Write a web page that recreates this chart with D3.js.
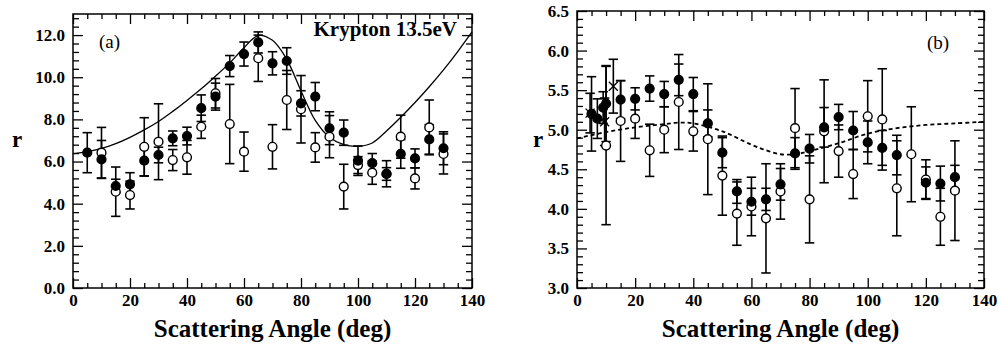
<!DOCTYPE html>
<html>
<head>
<meta charset="utf-8">
<script src="https://cdn.jsdelivr.net/npm/d3@7/dist/d3.min.js"></script>
<style>
  body { margin: 0; background: #fff; }
  svg text { font-family: "Liberation Serif", "Times New Roman", Times, serif; }
</style>
</head>
<body>
<svg id="chart" width="999" height="347"></svg>
<script>
// ---- panel (a) ----
const angA = [5, 10, 15, 20, 25, 30, 35, 40, 45, 50, 55, 60, 65, 70, 75, 80, 85, 90, 95, 100, 105, 110, 115, 120, 125, 130];
const fillA = [6.42, 6.1, 4.84, 4.92, 6.04, 6.31, 7.1, 7.21, 8.53, 9.08, 10.53, 11.1, 11.65, 10.66, 10.77, 8.76, 9.08, 7.58, 7.37, 6.04, 5.92, 5.41, 6.36, 6.15, 7.05, 6.63];
const fillAErr = [0.95, 0.9, 0.32, 0.55, 0.73, 0.37, 0.35, 0.42, 0.63, 0.64, 0.5, 0.57, 0.5, 0.55, 0.63, 0.6, 0.67, 0.78, 0.6, 0.7, 0.46, 0.3, 0.68, 0.45, 0.7, 0.78];
const angAOpen = [10, 15, 20, 25, 30, 35, 40, 45, 50, 55, 60, 65, 70, 75, 80, 85, 90, 95, 100, 105, 110, 115, 120, 125, 130];
const openA = [6.42, 4.57, 4.41, 6.7, 6.94, 6.07, 6.2, 7.65, 9.24, 7.78, 6.47, 10.9, 6.7, 8.92, 8.48, 6.67, 7.18, 4.81, 5.83, 5.47, 5.42, 7.18, 5.2, 7.62, 6.36];
const openAErr = [1.2, 1.17, 0.66, 1.38, 1.8, 0.5, 0.8, 0.55, 0.7, 1.88, 0.93, 1.1, 1.05, 1.4, 1.6, 0.7, 1.0, 1.06, 0.4, 0.55, 0.62, 1.02, 0.5, 1.3, 0.95];
const curveAAng = [0, 5, 10, 15, 20, 25, 30, 35, 40, 45, 50, 55, 60, 65, 70, 75, 80, 85, 90, 95, 100, 105, 110, 115, 120, 125, 130, 135, 140];
const curveAVal = [6.38, 6.47, 6.62, 6.85, 7.15, 7.5, 7.9, 8.38, 8.9, 9.45, 10.05, 10.68, 11.4, 11.98, 11.75, 10.85, 9.35, 7.95, 7.15, 6.8, 6.72, 6.88, 7.45, 8.1, 8.8, 9.55, 10.35, 11.22, 12.15];
const yTicksA = [0, 2, 4, 6, 8, 10, 12];

// ---- panel (b) ----
const angB = [5, 7, 9, 10, 15, 20, 25, 30, 35, 40, 45, 50, 55, 60, 65, 70, 75, 80, 85, 90, 95, 100, 105, 110, 120, 125, 130];
const fillB = [5.2, 5.14, 5.28, 5.33, 5.38, 5.39, 5.52, 5.45, 5.63, 5.45, 5.08, 4.71, 4.22, 4.09, 4.12, 4.31, 4.7, 4.76, 5.03, 5.16, 4.99, 4.84, 4.77, 4.68, 4.33, 4.32, 4.4];
const fillBErr = [0.47, 0.25, 0.2, 0.48, 0.24, 0.14, 0.16, 0.16, 0.2, 0.21, 0.17, 0.19, 0.15, 0.17, 0.14, 0.2, 0.2, 0.18, 0.25, 0.16, 0.24, 0.27, 0.22, 0.25, 0.2, 0.22, 0.15];
const angBOpen = [10, 15, 20, 25, 30, 35, 40, 45, 50, 55, 60, 65, 70, 75, 80, 85, 90, 95, 100, 105, 110, 115, 120, 125, 130];
const openB = [4.8, 5.11, 5.14, 4.74, 5.0, 5.35, 4.98, 4.88, 4.42, 3.94, 4.03, 3.88, 4.22, 5.02, 4.12, 4.98, 4.73, 4.44, 5.17, 5.13, 4.26, 4.69, 4.37, 3.9, 4.23];
const openBErr = [1.0, 0.51, 0.25, 0.33, 0.29, 0.6, 0.25, 0.7, 0.5, 0.4, 0.37, 0.69, 0.35, 0.5, 0.55, 0.65, 0.33, 0.31, 0.45, 0.64, 0.6, 0.6, 0.25, 0.36, 0.63];
const angBCross = [4.5, 9.5, 12.5];
const crossB = [5.21, 5.1, 5.55];
const crossBErr = [0.25, 0.3, 0.34];
const curveBAng = [0, 10, 20, 30, 35, 40, 50, 60, 65, 70, 75, 80, 90, 100, 110, 120, 130, 140];
const curveBVal = [4.89, 4.97, 5.03, 5.07, 5.09, 5.08, 4.98, 4.81, 4.74, 4.69, 4.69, 4.73, 4.83, 4.95, 5.02, 5.06, 5.08, 5.1];
const yTicksB = [3.0, 3.5, 4.0, 4.5, 5.0, 5.5, 6.0, 6.5];

const xTicks = [0, 20, 40, 60, 80, 100, 120, 140];

const FONT = '"Liberation Serif", "Times New Roman", Times, serif';
const svg = d3.select("#chart");

function panel(box, yDomain, yMajor, yMinorStep, yLabelX) {
  const x = d3.scaleLinear().domain([0, 140]).range([box.left, box.right]);
  const y = d3.scaleLinear().domain(yDomain).range([box.bottom, box.top]);
  const g = svg.append("g");
  const xMinor = d3.range(0, 140.01, 5).filter(v => v % 20 !== 0);
  const yMinor = d3.range(yDomain[0], yDomain[1] + 1e-6, yMinorStep).filter(v => !yMajor.some(m => Math.abs(m - v) < 1e-6));

  const styleAxis = sel => {
    sel.attr("font-family", FONT);
    sel.select(".domain").remove();
    sel.selectAll("line").attr("stroke", "#000").attr("stroke-width", 1.3);
  };
  const lab = sel => sel.selectAll("text").attr("font-family", FONT).attr("font-size", 17).attr("font-weight", "bold").attr("fill", "#000");

  // bottom
  g.append("g").attr("transform", `translate(0,${box.bottom})`)
    .call(d3.axisBottom(x).tickValues(xTicks).tickSize(-10).tickPadding(6).tickFormat(d3.format("d")))
    .call(styleAxis).call(lab);
  g.append("g").attr("transform", `translate(0,${box.bottom})`)
    .call(d3.axisBottom(x).tickValues(xMinor).tickSize(-5).tickFormat(""))
    .call(styleAxis);
  // top
  g.append("g").attr("transform", `translate(0,${box.top})`)
    .call(d3.axisTop(x).tickValues(xTicks).tickSize(-10).tickFormat(""))
    .call(styleAxis);
  g.append("g").attr("transform", `translate(0,${box.top})`)
    .call(d3.axisTop(x).tickValues(xMinor).tickSize(-5).tickFormat(""))
    .call(styleAxis);
  // left
  g.append("g").attr("transform", `translate(${box.left},0)`)
    .call(d3.axisLeft(y).tickValues(yMajor).tickSize(-10).tickPadding(8).tickFormat(d3.format(".1f")))
    .call(styleAxis).call(lab);
  g.append("g").attr("transform", `translate(${box.left},0)`)
    .call(d3.axisLeft(y).tickValues(yMinor).tickSize(-6).tickFormat(""))
    .call(styleAxis);
  // right
  g.append("g").attr("transform", `translate(${box.right},0)`)
    .call(d3.axisRight(y).tickValues(yMajor).tickSize(-10).tickFormat(""))
    .call(styleAxis);
  g.append("g").attr("transform", `translate(${box.right},0)`)
    .call(d3.axisRight(y).tickValues(yMinor).tickSize(-6).tickFormat(""))
    .call(styleAxis);

  g.append("rect")
    .attr("x", box.left).attr("y", box.top)
    .attr("width", box.right - box.left).attr("height", box.bottom - box.top)
    .attr("fill", "none").attr("stroke", "#000").attr("stroke-width", 1.5);

  g.append("text").attr("x", (box.left + box.right) / 2).attr("y", 337)
    .attr("text-anchor", "middle").attr("font-family", FONT).attr("font-size", 25).attr("font-weight", "bold")
    .text("Scattering Angle (deg)");
  g.append("text").attr("x", yLabelX).attr("y", 147)
    .attr("text-anchor", "middle").attr("font-family", FONT).attr("font-size", 23).attr("font-weight", "bold")
    .text("r");

  return { x, y, g };
}

function errorBars(p, ang, val, err) {
  const cap = 4.7;
  const eb = p.g.append("g").attr("stroke", "#000").attr("stroke-width", 1.6).attr("fill", "none");
  ang.forEach((a, i) => {
    const cx = p.x(a), y0 = p.y(val[i] - err[i]), y1 = p.y(val[i] + err[i]);
    eb.append("line").attr("x1", cx).attr("x2", cx).attr("y1", y0).attr("y2", y1);
    eb.append("line").attr("x1", cx - cap).attr("x2", cx + cap).attr("y1", y0).attr("y2", y0);
    eb.append("line").attr("x1", cx - cap).attr("x2", cx + cap).attr("y1", y1).attr("y2", y1);
  });
}

function circles(p, ang, val, filled) {
  p.g.append("g").selectAll("circle").data(ang).join("circle")
    .attr("cx", d => p.x(d)).attr("cy", (d, i) => p.y(val[i])).attr("r", 4.4)
    .attr("fill", filled ? "#000" : "#fff").attr("stroke", "#000").attr("stroke-width", 1.4);
}

function crosses(p, ang, val) {
  const s = 4.5;
  const cg = p.g.append("g").attr("stroke", "#000").attr("stroke-width", 1.3);
  ang.forEach((a, i) => {
    const cx = p.x(a), cy = p.y(val[i]);
    cg.append("line").attr("x1", cx - s).attr("y1", cy - s).attr("x2", cx + s).attr("y2", cy + s);
    cg.append("line").attr("x1", cx - s).attr("y1", cy + s).attr("x2", cx + s).attr("y2", cy - s);
  });
}

// panel (a)
const pa = panel({ left: 73, right: 472, top: 14, bottom: 288 }, [0, 13], yTicksA, 0.4, 17);
const lineA = d3.line().x(d => pa.x(d[0])).y(d => pa.y(d[1])).curve(d3.curveCatmullRom);
pa.g.append("path").datum(curveAAng.map((a, i) => [a, curveAVal[i]]))
  .attr("d", lineA).attr("fill", "none").attr("stroke", "#000").attr("stroke-width", 1.3);
errorBars(pa, angAOpen, openA, openAErr);
errorBars(pa, angA, fillA, fillAErr);
circles(pa, angAOpen, openA, false);
circles(pa, angA, fillA, true);
pa.g.append("text").attr("x", 99).attr("y", 48).attr("font-family", FONT).attr("font-size", 19).text("(a)");
pa.g.append("text").attr("x", 457).attr("y", 36).attr("text-anchor", "end").attr("font-family", FONT)
  .attr("font-size", 21).attr("font-weight", "bold").text("Krypton 13.5eV");

// panel (b)
const pb = panel({ left: 577, right: 984, top: 11, bottom: 288 }, [3.0, 6.5], yTicksB, 0.1, 538);
const lineB = d3.line().x(d => pb.x(d[0])).y(d => pb.y(d[1])).curve(d3.curveCatmullRom);
pb.g.append("path").datum(curveBAng.map((a, i) => [a, curveBVal[i]]))
  .attr("d", lineB).attr("fill", "none").attr("stroke", "#000").attr("stroke-width", 1.8)
  .attr("stroke-dasharray", "4,3");
errorBars(pb, angBOpen, openB, openBErr);
errorBars(pb, angB, fillB, fillBErr);
errorBars(pb, angBCross, crossB, crossBErr);
circles(pb, angBOpen, openB, false);
circles(pb, angB, fillB, true);
crosses(pb, angBCross, crossB);
pb.g.append("text").attr("x", 927).attr("y", 49).attr("font-family", FONT).attr("font-size", 19).text("(b)");
</script>
</body>
</html>
